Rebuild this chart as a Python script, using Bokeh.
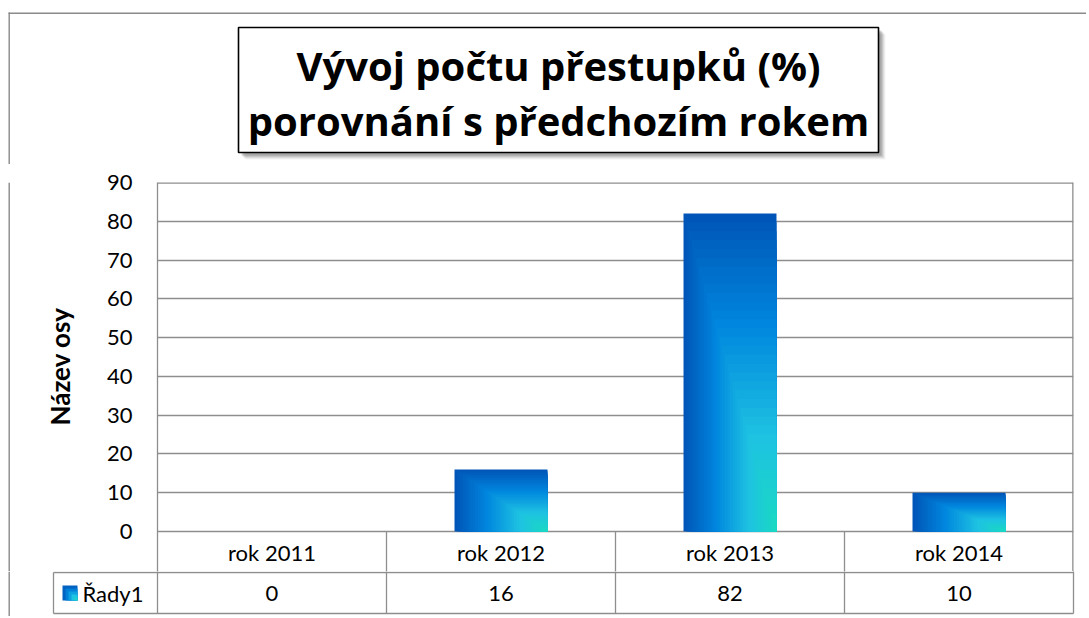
import numpy as np
from bokeh.plotting import figure
from bokeh.layouts import column, row
from bokeh.models import Range1d, FixedTicker, Span
from bokeh.embed import file_html
from bokeh.resources import INLINE
from bokeh.core.properties import value

# ---------------- data ----------------
categories = ["rok 2011", "rok 2012", "rok 2013", "rok 2014"]
values = [0, 16, 82, 10]
series_name = "Řady1"
y_ticks = [0, 10, 20, 30, 40, 50, 60, 70, 80, 90]
title_lines = ["Vývoj počtu přestupků (%)", "porovnání s předchozím rokem"]
axis_title = "Název osy"

# ---------------- layout constants (pixels) ----------------
W = 1086
TOP_H = 164                 # title band height
FS_W = 86                   # left strip (outer border + axis title)
PLOT_L, PLOT_R = 157, 1073  # plot-area edges on the page
PLOT_T, PLOT_B = 182, 531   # y=90 and y=0 on the page
ROW_PX = 41                 # data-table row height
P_BOTTOM = 571              # bottom of main figure
TABLE_B = 616               # bottom of the page area used
LEG_L = 53                  # left edge of legend cell
BORDER_X, BORDER_Y = 8, 12  # outer chart border (left / top edge of a 1.4px band)
BW = 1.4
BAR_W = 0.406
FONT = "Lato"
TITLE_FONT = "Open Sans"
GRID = "#8e8e8e"
BORDER = "#8a8a8a"
LW = 1.3
Y_MAX = max(y_ticks)
PX_PER_CAT = (PLOT_R - PLOT_L) / len(categories)
PX_PER_UNIT = (PLOT_B - PLOT_T) / Y_MAX

stops = [(0.0, (0, 84, 182)), (0.35, (0, 134, 222)), (0.7, (30, 194, 226)), (1.0, (26, 218, 194))]


def grad(t):
    for (t0, c0), (t1, c1) in zip(stops[:-1], stops[1:]):
        if t <= t1:
            f = (t - t0) / (t1 - t0)
            c = [int(round(a + (b - a) * f)) for a, b in zip(c0, c1)]
            return "#%02x%02x%02x" % tuple(c)
    return "#%02x%02x%02x" % stops[-1][1]


def bare(fig):
    fig.min_border_left = fig.min_border_right = fig.min_border_top = fig.min_border_bottom = 0
    fig.outline_line_color = None
    fig.background_fill_color = "white"
    fig.border_fill_color = "white"
    fig.grid.visible = False
    return fig


# ---------------- top band: outer border + title box ----------------
ft = bare(figure(width=W, height=TOP_H, output_backend="svg", toolbar_location=None, tools="",
                 x_range=Range1d(0, W), y_range=Range1d(TOP_H, 0),
                 x_axis_location=None, y_axis_location=None))
ft.quad(left=[BORDER_X, BORDER_X], right=[BORDER_X + BW, W + 5], top=[BORDER_Y, BORDER_Y],
        bottom=[TOP_H + 5, BORDER_Y + BW], fill_color=BORDER, line_color=None)
BOX_L, BOX_R, BOX_T, BOX_B = 238, 878, 27, 152
for off, a in [(7, 0.06), (6, 0.08), (5, 0.11), (4, 0.14), (3, 0.18)]:
    ft.quad(left=[BOX_L + off], right=[BOX_R + off], top=[BOX_T + off], bottom=[BOX_B + off],
            fill_color="#404040", fill_alpha=a, line_color=None)
ft.quad(left=[BOX_L], right=[BOX_R], top=[BOX_T], bottom=[BOX_B],
        fill_color="white", line_color="black", line_width=1.6)
title_cx = (BOX_L + BOX_R) / 2
ft.text(x=[title_cx, title_cx], y=[65, 120], text=title_lines, text_align="center",
        text_baseline="alphabetic", text_font=value(TITLE_FONT), text_font_size="40px",
        text_font_style="bold", text_color="black")

# ---------------- left strip: outer border + axis title ----------------
P_H = P_BOTTOM - TOP_H
fs = bare(figure(width=FS_W, height=P_H, output_backend="svg", toolbar_location=None, tools="",
                 x_range=Range1d(0, FS_W), y_range=Range1d(TOP_H, P_BOTTOM),
                 x_axis_location=None, y_axis_location=None))
fs.add_layout(Span(location=BORDER_X + BW / 2, dimension="height", line_color=BORDER, line_width=BW))
axis_title_y = P_BOTTOM - (PLOT_T + PLOT_B) / 2 + TOP_H
fs.text(x=[59], y=[axis_title_y], text=[axis_title], angle=np.pi / 2, text_align="center",
        text_baseline="middle", text_font=value(FONT), text_font_size="26px",
        text_font_style="bold", text_color="black")

# ---------------- main plot (plot area + category row of the table) ----------------
y_min = Y_MAX - (P_BOTTOM - PLOT_T) / PX_PER_UNIT
p = figure(width=W - FS_W, height=P_H, output_backend="svg", toolbar_location=None, tools="",
           x_range=Range1d(0, len(categories)), y_range=Range1d(y_min, Y_MAX), x_axis_location=None)
p.min_border_left = PLOT_L - FS_W
p.min_border_right = W - PLOT_R
p.min_border_top = PLOT_T - TOP_H
p.min_border_bottom = 0
p.background_fill_color = "white"
p.border_fill_color = "white"
p.outline_line_color = None
p.xgrid.visible = False
p.ygrid.ticker = FixedTicker(ticks=y_ticks)
p.ygrid.grid_line_color = GRID
p.ygrid.grid_line_width = LW

ax = p.yaxis[0]
ax.ticker = FixedTicker(ticks=y_ticks)
ax.major_tick_line_color = None
ax.minor_tick_line_color = None
ax.major_tick_out = 0
ax.major_tick_in = 0
ax.axis_line_color = GRID
ax.axis_line_width = LW
ax.major_label_standoff = 25
ax.major_label_text_font = FONT
ax.major_label_text_font_size = "22px"
ax.major_label_text_color = "black"

ncat = len(categories)
# plot-area frame: top and right edges (frame edge clips half of the width)
p.segment(x0=[0, ncat], x1=[ncat, ncat], y0=[Y_MAX, Y_MAX], y1=[Y_MAX, y_min],
          line_color=GRID, line_width=2 * LW)

# gradient bars: nested rectangles (Excel "from corner" gradient)
N = 36
L, R, T, C = [], [], [], []
for i, v in enumerate(values):
    xc = i + 0.5
    for k in range(N):
        c = k / N
        L.append(xc - BAR_W / 2 + c * BAR_W)
        R.append(xc + BAR_W / 2)
        T.append(v * (1 - c))
        C.append(grad(c + 0.5 / N))
p.quad(left=L, right=R, top=T, bottom=[0] * len(L), fill_color=C, line_color=None)

# category row of the data table
div_x = list(range(1, ncat))
p.segment(x0=div_x, x1=div_x, y0=[0] * len(div_x), y1=[y_min] * len(div_x), line_color=GRID, line_width=LW)
xs = [i + 0.5 for i in range(ncat)]
row_units = ROW_PX / PX_PER_UNIT
p.text(x=xs, y=[-row_units / 2] * ncat, text=categories, text_align="center", text_baseline="middle",
       text_font=value(FONT), text_font_size="22px", text_color="black")

# ---------------- value row of the data table ----------------
TAB_H = TABLE_B - P_BOTTOM
x_lo = -PLOT_L / PX_PER_CAT
x_hi = (W - PLOT_L) / PX_PER_CAT
y_top = -(P_BOTTOM - PLOT_B) / ROW_PX
y_bot = -(TABLE_B - PLOT_B) / ROW_PX
tb = bare(figure(width=W, height=TAB_H, output_backend="svg", toolbar_location=None, tools="",
                 x_range=Range1d(x_lo, x_hi), y_range=Range1d(y_bot, y_top),
                 x_axis_location=None, y_axis_location=None))
leg_x = -(PLOT_L - LEG_L) / PX_PER_CAT
tb.segment(x0=[leg_x, leg_x], x1=[ncat, ncat], y0=[-1, -2], y1=[-1, -2], line_color=GRID, line_width=LW)
vx = list(range(ncat + 1)) + [leg_x]
tb.segment(x0=vx, x1=vx, y0=[0] * ncat + [0, -1], y1=[-2] * len(vx), line_color=GRID, line_width=LW)
bx = -(PLOT_L - BORDER_X - BW / 2) / PX_PER_CAT
tb.add_layout(Span(location=bx, dimension="height", line_color=BORDER, line_width=BW))

tb.text(x=xs, y=[-1.5] * ncat, text=[str(v) for v in values], text_align="center",
        text_baseline="middle", text_font=value(FONT), text_font_size="22px", text_color="black")

# legend key (small gradient square) + series name
key_px = 15
k_l = -(PLOT_L - 62) / PX_PER_CAT
k_w = key_px / PX_PER_CAT
k_t = -1.5 + (key_px / 2) / ROW_PX
k_h = key_px / ROW_PX
NK = 5
KL, KR, KT, KB, KC = [], [], [], [], []
for k in range(NK):
    c = k / NK
    KL.append(k_l + c * k_w)
    KR.append(k_l + k_w)
    KT.append(k_t - c * k_h)
    KB.append(k_t - k_h)
    KC.append(grad(c + 0.1))
tb.quad(left=KL, right=KR, top=KT, bottom=KB, fill_color=KC, line_color=None)
tb.text(x=[k_l + k_w + 5 / PX_PER_CAT], y=[-1.5], text=[series_name], text_align="left",
        text_baseline="middle", text_font=value(FONT), text_font_size="22px", text_color="black")

layout = column(ft, row(fs, p, spacing=0), tb, spacing=0)
open("out.html", "w").write(file_html(layout, INLINE))
